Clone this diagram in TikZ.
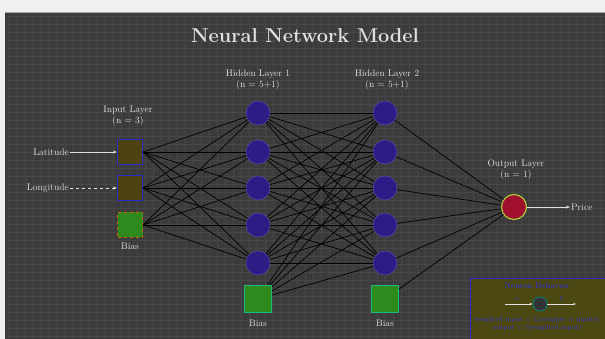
\documentclass[tikz,border=0pt]{standalone}
\usetikzlibrary{arrows.meta}
\definecolor{panel}{HTML}{3B3B3B}
\definecolor{gridc}{HTML}{474747}
\definecolor{txt}{HTML}{E0E0E0}
\definecolor{inbrown}{HTML}{4F4212}
\definecolor{inborder}{HTML}{2A2AC8}
\definecolor{biasgreen}{HTML}{2F8A1E}
\definecolor{neuron}{HTML}{2C1C86}
\definecolor{outred}{HTML}{A0102C}
\definecolor{outrim}{HTML}{A8C83A}
\definecolor{legfill}{HTML}{4C4812}
\definecolor{legblue}{HTML}{2A2AE0}
\tikzset{
  insq/.style={draw=inborder, line width=1.2pt, fill=inbrown, minimum size=25pt, inner sep=0pt},
  biassq/.style={draw=biasgreen!60!cyan, line width=1pt, fill=biasgreen, minimum size=27pt, inner sep=0pt},
  hid/.style={circle, draw=neuron!80!white, line width=0.6pt, fill=neuron, minimum size=24pt, inner sep=0pt},
  outn/.style={circle, draw=outrim, line width=1.2pt, fill=outred, minimum size=25pt, inner sep=0pt},
  lbl/.style={text=txt, font=\fontsize{9.5}{10.5}\selectfont, align=center, inner sep=1pt},
  conn/.style={black, line width=0.7pt},
  feed/.style={txt, line width=0.8pt, -{Stealth[length=4pt]}}
}
\begin{document}
\begin{tikzpicture}[x=1pt,y=-1pt]
\useasboundingbox (0,0) rectangle (605,339);
\fill[gray!12] (0,0) rectangle (605,339);
\fill[panel] (5,12) rectangle (605,339);
\begin{scope}
\clip (5,12) rectangle (605,339);
\foreach \gx in {9,17,...,605} \draw[gridc, line width=0.4pt] (\gx,12) -- (\gx,339);
\foreach \gy in {16,24,...,339} \draw[gridc, line width=0.4pt] (5,\gy) -- (605,\gy);
\end{scope}
\draw[gray!70, line width=0.8pt] (5,12) -- (605,12);

\node[text=txt, font=\fontsize{20}{22}\selectfont\bfseries] (title) at (305,36) {Neural Network Model};

% input layer
\node[lbl] (inlab) at (128,116) {Input Layer\\(n = 3)};
\node[insq] (i1) at (130,152) {};
\node[insq] (i2) at (130,188) {};
\node[biassq, draw=orange!80!black, dashed, minimum size=25pt] (i3) at (130,225) {};
\node[lbl] (ib) at (130,246) {Bias};
\node[lbl, anchor=east] (lat) at (70,152) {Latitude};
\node[lbl, anchor=east] (lon) at (70,188) {Longitude};
\draw[feed] (lat) -- (i1);
\draw[feed, dashed] (lon) -- (i2);

% hidden layer 1
\node[lbl] (h1lab) at (258,80) {Hidden Layer 1\\(n = 5+1)};
\foreach \k/\yy in {1/113,2/152,3/188,4/225,5/263}
  \node[hid] (a\k) at (258,\yy) {};
\node[biassq] (ab) at (258,299) {};
\node[lbl] (abl) at (258,323) {Bias};

% hidden layer 2
\node[lbl] (h2lab) at (387,80) {Hidden Layer 2\\(n = 5+1)};
\foreach \k/\yy in {1/113,2/152,3/188,4/225,5/263}
  \node[hid] (b\k) at (385,\yy) {};
\node[biassq] (bb) at (385,299) {};
\node[lbl] (bbl) at (385,323) {Bias};

% output
\node[lbl] (olab) at (516,170) {Output Layer\\(n = 1)};
\node[outn] (o) at (514,207) {};
\node[lbl, anchor=west] (price) at (570,207) {Price};
\draw[feed] (o) -- (price);

% connections
\foreach \s in {i1,i2,i3}
  \foreach \t in {1,...,5}
    \draw[conn] (\s.east) -- (a\t);
\foreach \s in {a1,a2,a3,a4,a5,ab}
  \foreach \t in {1,...,5}
    \draw[conn] (\s) -- (b\t);
\foreach \s in {b1,b2,b3,b4,b5,bb}
  \draw[conn] (\s) -- (o);

% legend
\node[draw=legblue, line width=1pt, fill=legfill, minimum width=135pt, minimum height=61pt, inner sep=0pt, anchor=north west] (leg) at (470,278) {};
\node[text=legblue, font=\fontsize{8.5}{9}\selectfont, inner sep=0pt] (legt) at (537,286) {Neuron Behavior};
\node[circle, draw=teal, line width=0.8pt, fill=black!80, minimum size=14pt, inner sep=0pt] (ln) at (540,304) {};
\coordinate (lx) at (505,304);
\coordinate (ly) at (576,304);
\draw[txt, line width=0.6pt, -{Stealth[length=3pt]}] (lx) -- (ln);
\draw[txt, line width=0.6pt, -{Stealth[length=3pt]}] (ln) -- (ly);
\node[text=legblue, font=\fontsize{6}{7}\selectfont, inner sep=0pt] (lxl) at (517,299) {$x$};
\node[text=legblue, font=\fontsize{6}{7}\selectfont, inner sep=0pt] (lyl) at (561,299) {$y$};
\node[text=legblue, font=\fontsize{6.5}{7.5}\selectfont, align=center] (legf) at (537,324) {weighted input = $\Sigma$(weights $\times$ inputs)\\output = f(weighted input)};
\end{tikzpicture}
\end{document}
